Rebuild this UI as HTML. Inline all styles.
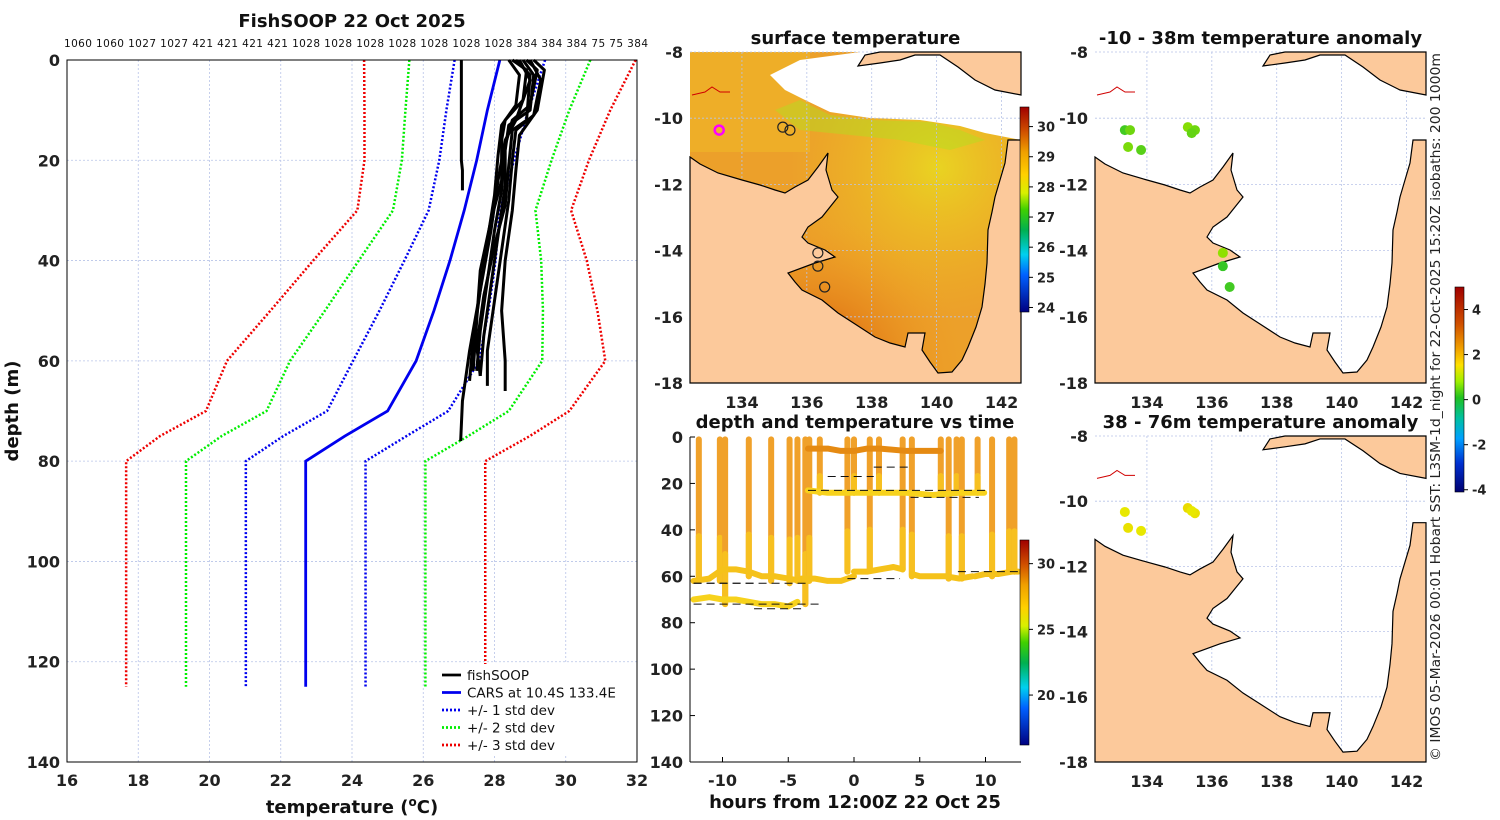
<!DOCTYPE html>
<html><head><meta charset="utf-8"><style>
html,body{margin:0;padding:0;background:#fff}
svg{display:block;font-family:"DejaVu Sans","Liberation Sans",sans-serif}
.tk{font-size:16px;font-weight:bold;fill:#222}
.ttl{font-size:18px;font-weight:bold;fill:#111}
</style></head><body>
<svg id="fig" width="1500" height="820" viewBox="0 0 1500 820" xmlns="http://www.w3.org/2000/svg">
<defs>
<linearGradient id="cbSST" x1="0" y1="0" x2="0" y2="1">
<stop offset="0" stop-color="#a00000"/><stop offset="0.12" stop-color="#d05000"/><stop offset="0.22" stop-color="#f0a000"/><stop offset="0.33" stop-color="#ffd000"/><stop offset="0.42" stop-color="#d8f000"/><stop offset="0.5" stop-color="#40d000"/><stop offset="0.6" stop-color="#00b050"/><stop offset="0.72" stop-color="#00d0f0"/><stop offset="0.82" stop-color="#0060ff"/><stop offset="1" stop-color="#000080"/></linearGradient>
<linearGradient id="cbAnom" x1="0" y1="0" x2="0" y2="1">
<stop offset="0" stop-color="#a00000"/><stop offset="0.18" stop-color="#d05000"/><stop offset="0.3" stop-color="#f0a000"/><stop offset="0.38" stop-color="#ffe000"/><stop offset="0.46" stop-color="#a0f000"/><stop offset="0.54" stop-color="#20c020"/><stop offset="0.64" stop-color="#00c0a0"/><stop offset="0.74" stop-color="#00a0ff"/><stop offset="0.86" stop-color="#0030d0"/><stop offset="1" stop-color="#000070"/></linearGradient>
<radialGradient id="sstHot" cx="0.35" cy="0.72" r="0.5"><stop offset="0" stop-color="#c02010" stop-opacity="0.9"/><stop offset="0.5" stop-color="#e07010" stop-opacity="0.5"/><stop offset="1" stop-color="#f0a020" stop-opacity="0"/></radialGradient>
<radialGradient id="sstYel" cx="0.75" cy="0.35" r="0.45"><stop offset="0" stop-color="#e8e020" stop-opacity="0.8"/><stop offset="1" stop-color="#f0c020" stop-opacity="0"/></radialGradient>
<clipPath id="clipMid"><rect x="690" y="52" width="331" height="331"/></clipPath>
</defs>
<g id="left"></g><g id="mapMid"></g><g id="tsPlot"></g><g id="mapTop"></g><g id="mapBot"></g><g id="bars"></g>
<text x="1440" y="407" transform="rotate(-90 1440 407)" text-anchor="middle" textLength="708" lengthAdjust="spacingAndGlyphs" style="font-size:13px;fill:#222">© IMOS 05-Mar-2026 00:01 Hobart SST: L3SM-1d_night for 22-Oct-2025 15:20Z isobaths: 200  1000m</text>
</svg>
<script>
// ===== Left profile chart data =====
const tempTicks = [16,18,20,22,24,26,28,30,32];
const depthTicks = [0,20,40,60,80,100,120,140];
const carsDepth = [0,10,20,30,40,50,60,70,75,80,125];
const carsMean = [28.15,27.8,27.5,27.15,26.75,26.3,25.8,25.0,23.8,22.7,22.7];
const carsStd = [1.27,1.15,1.05,1.0,1.28,1.53,1.77,1.7,1.73,1.68,1.68];
const topLabels = ["1060","1060","1027","1027","421","421","421","421","1028","1028","1028","1028","1028","1028","1028","384","384","384","75","75","384"];
const fsDepth = [
 [0,3,10,13,18,25,35,45,55,63],
 [0,2,8,12,16,24,32,42,52,62],
 [0,4,11,14,20,28,38,48,58,65],
 [0,3,9,13,19,27,36,46,56,64],
 [0,2,10,15,22,30,40,50,60,66],
 [0,3,12,14,21,29,37,47,57,63],
 [0,2,9,12,17,26,34,44,54,62],
 [0,4,12,16,24,34,46,58,68,76],
 [0,5,10,15,20,22,25,26]
];
const fsTemp = [
 [28.8,29.1,29.0,28.4,28.3,28.3,28.1,27.9,27.7,27.6],
 [28.5,28.9,28.8,28.3,28.2,28.2,27.9,27.6,27.5,27.4],
 [29.0,29.3,29.1,28.6,28.5,28.4,28.2,28.0,27.8,27.8],
 [28.4,28.7,28.6,28.2,28.1,28.0,27.8,27.6,27.4,27.3],
 [29.1,29.4,29.2,28.7,28.6,28.5,28.3,28.2,28.3,28.3],
 [28.6,29.0,28.9,28.5,28.4,28.3,28.0,27.7,27.5,27.6],
 [28.9,29.2,29.0,28.5,28.3,28.2,28.0,27.8,27.6,27.5],
 [28.7,29.0,28.6,28.3,28.1,27.9,27.6,27.3,27.1,27.05],
 [27.07,27.07,27.07,27.07,27.07,27.1,27.1,27.1]
];
// ===== Time-depth plot data =====
const hourTicks = [-10,-5,0,5,10];
const tdDepthTicks = [0,20,40,60,80,100,120,140];
const castHours = [-11.8,-10.2,-9.8,-8.0,-6.3,-4.9,-4.3,-3.7,-3.4,-2.6,-0.5,0.0,1.2,1.9,3.7,4.4,6.6,7.2,7.8,8.2,9.4,10.5,11.8,12.2];
const castBottom = [61,62,72,60,62,63,62,72,62,24,58,24,57,24,57,60,24,61,24,61,24,60,58,58];
const trackHours = [[-12.2,-11,-10,-9,-8,-7,-6,-5,-4,-3.5],[-12.2,-11,-10,-9,-8,-7,-6,-5,-4.3],[-4,-3,-2,-1,0],[0,1,2,3,3.7],[4.4,5,6,7,8,9],[9.2,10,11,12,12.5],[-3.5,-2,0,2,4,6,8,9.9],[-3.5,-2,-1,0,1,2,4,6.6]];
const trackDepth = [[62,61,57,57,58,60,60,61,62,62],[70,69,70,70,71,72,72,73,71],[61,61,62,62,60],[58,58,57,56,57],[59,60,60,60,61,60],[60,59,59,58,58],[23,24,24,24,24,25,24,24],[5,5,6,6,5,5,6,6]];
const trackTempCls = [0,1,0,0,0,0,1,2];
const dashH0 = [-12.2,-12.2,-3.5,-0.5,-2,1.5,4.3,7.9,-12.2,-7.6];
const dashH1 = [-3.5,-7.6,10,3.5,1.5,4.3,9.5,12.6,-2.5,-4.0];
const dashD = [63,63,23,61,17,13,26,58,72,74];
// ===== Maps data =====
const lonTicks = [134,136,138,140,142];
const latTicks = [-8,-10,-12,-14,-16,-18];
const obsLon = [133.32,133.48,133.42,133.82,135.26,135.48,135.38,136.34,136.34,136.55];
const obsLat = [-10.36,-10.36,-10.87,-10.96,-10.27,-10.36,-10.45,-14.07,-14.47,-15.10];
const anomShallow = [0.3,0.7,0.8,0.5,0.9,0.7,0.6,1.0,0.2,0.3];
const deepLon = [133.32,133.42,133.82,135.26,135.48,135.38];
const deepLat = [-10.33,-10.82,-10.91,-10.21,-10.37,-10.30];
const anomDeep = [2.0,2.1,2.0,2.2,2.1,2.0];
const sstTicks = [24,25,26,27,28,29,30];
const tdCbTicks = [20,25,30];
const anomTicks = [-4,-2,0,2,4];

const NS="http://www.w3.org/2000/svg";
function mk(parent,tag,attrs){const e=document.createElementNS(NS,tag);for(const k in attrs)e.setAttribute(k,attrs[k]);parent.appendChild(e);return e;}
function txt(parent,x,y,s,cls,anchor,extra){const e=mk(parent,'text',Object.assign({x:x,y:y,'text-anchor':anchor||'middle'},extra||{}));if(cls)e.setAttribute('class',cls);e.textContent=s;return e;}

// ---------- Left chart ----------
(function(){
 const g=document.getElementById('left');
 const X0=67,X1=637,Y0=60,Y1=762;
 const sx=t=>X0+(t-16)/(32-16)*(X1-X0);
 const sy=d=>Y0+d/140*(Y1-Y0);
 let t=txt(g,352,27,'FishSOOP 22 Oct 2025','ttl');
 
 
 tempTicks.forEach(v=>{const l=mk(g,'line',{x1:sx(v),x2:sx(v),y1:Y0,y2:Y1,stroke:'#b8c4e8','stroke-width':0.8,'stroke-dasharray':'2 2'});
  
  
  const e=txt(g,sx(v),786,String(v),'tk');
  
  });
 depthTicks.forEach(v=>{const l=mk(g,'line',{x1:X0,x2:X1,y1:sy(v),y2:sy(v),stroke:'#b8c4e8','stroke-width':0.8,'stroke-dasharray':'2 2'});
  
  
  const e=txt(g,60,sy(v)+6,String(v),'tk','end');
  
  });
 const tl=txt(g,356,47,topLabels.join(' '),null,'middle',{style:'font-size:10.5px;fill:#111',textLength:'584',lengthAdjust:'spacing'});
 
 
 const colors=['#0000ee','#00ee00','#ee0000'];
 [1,2,3].forEach(k=>{[-1,1].forEach(sg=>{
  const pts=carsDepth.map((d,i)=>sx(carsMean[i]+sg*k*carsStd[i])+','+sy(d)).join(' ');
  const p=mk(g,'polyline',{points:pts,fill:'none',stroke:colors[k-1],'stroke-width':2.5,'stroke-dasharray':'2 2'});
  
  });});
 const cp=mk(g,'polyline',{points:carsDepth.map((d,i)=>sx(carsMean[i])+','+sy(d)).join(' '),fill:'none',stroke:'#0000ee','stroke-width':2.8});
 
 
 fsDepth.forEach((ds,j)=>{const p=mk(g,'polyline',{points:ds.map((d,i)=>sx(fsTemp[j][i])+','+sy(d)).join(' '),fill:'none',stroke:'#000','stroke-width':3,'stroke-linejoin':'round'});
  
  });
 const fr=mk(g,'rect',{x:X0,y:Y0,width:X1-X0,height:Y1-Y0,fill:'none',stroke:'#000','stroke-width':1});
 
 
 let xl=txt(g,352,813,'','ttl');
 
 
 xl.innerHTML='temperature (<tspan dy="-7" style="font-size:12px">o</tspan><tspan dy="7">C)</tspan>';
 let yl=txt(g,18,411,'depth (m)','ttl','middle',{transform:'rotate(-90 18 411)'});
 
 
 const lg=mk(g,'g',{});
 
 
 mk(lg,'rect',{x:436,y:664,width:190,height:90,fill:'#fff'});
 const items=[['fishSOOP','#000',''],['CARS at 10.4S 133.4E','#0000ee',''],['+/- 1 std dev','#0000ee','2 2'],['+/- 2 std dev','#00ee00','2 2'],['+/- 3 std dev','#ee0000','2 2']];
 items.forEach((it,i)=>{const y=675+i*17.5;
  const l=mk(lg,'line',{x1:442,x2:461,y1:y,y2:y,stroke:it[1],'stroke-width':2.8,'stroke-dasharray':it[2]||'none'});
  
  
  const e=txt(lg,467,y+5,it[0],null,'start',{style:'font-size:13.5px;fill:#111'});
  
  });
})();

// ---------- Map helpers ----------
const topLand=[[168,14],[175,3],[190,0],[331,0],[331,43],[305,38],[285,28],[268,15],[250,3],[225,3],[210,8],[190,11]];
const mainLand=[[0,105],[10,112],[28,121],[52,128],[70,133],[85,138],[95,141],[105,135],[118,128],[128,115],[138,101],[136,118],[142,138],[148,145],[140,155],[132,165],[118,175],[112,185],[118,191],[135,198],[145,205],[125,211],[98,221],[105,230],[112,238],[132,248],[148,261],[165,272],[185,285],[200,291],[215,295],[218,281],[235,281],[232,298],[240,310],[248,321],[262,320],[272,308],[278,295],[286,275],[292,255],[295,232],[297,211],[298,178],[302,160],[305,145],[310,128],[315,111],[318,88],[331,88],[331,331],[0,331]];
function drawMap(gid,ox,oy,W,H,title,fillOcean,showXTicks,name){
 const g=document.getElementById(gid);
 
 
 const lon=v=>ox+(v-132.4)/(142.6-132.4)*W;
 const lat=v=>oy+(-8-v)/10*H;
 const ky=H/331;
 const rp=pts=>pts.map(p=>(ox+p[0])+','+(oy+p[1]*ky)).join(' ');
 if(fillOcean){fillOcean(g,ox,oy,W,H,rp);}
 else mk(g,'rect',{x:ox,y:oy,width:W,height:H,fill:'#fff'});
 lonTicks.forEach(v=>{mk(g,'line',{x1:lon(v),x2:lon(v),y1:oy,y2:oy+H,stroke:'#b8c4e8','stroke-width':0.8,'stroke-dasharray':'2 2'});});
 latTicks.forEach(v=>{mk(g,'line',{x1:ox,x2:ox+W,y1:lat(v),y2:lat(v),stroke:'#b8c4e8','stroke-width':0.8,'stroke-dasharray':'2 2'});
   const e=txt(g,ox-7,lat(v)+6,String(v),'tk','end');
   
   });
 [topLand,mainLand].forEach(pl=>{const p=mk(g,'polygon',{points:rp(pl),fill:'#fcc99b',stroke:'#000','stroke-width':1.2});
   
   });
 if(showXTicks) lonTicks.forEach(v=>{const e=txt(g,lon(v),oy+H+25,String(v),'tk');
   
   });
 const t=txt(g,ox+W/2,oy-8,title,'ttl');
 
 
 mk(g,'polyline',{points:`${ox+2},${oy+43*ky} ${ox+15},${oy+40*ky} ${ox+22},${oy+35*ky} ${ox+30},${oy+40*ky} ${ox+40},${oy+40*ky}`,fill:'none',stroke:'#d00000','stroke-width':1});
 return {g,lon,lat};
}
function hex2(c){return [parseInt(c.slice(1,3),16),parseInt(c.slice(3,5),16),parseInt(c.slice(5,7),16)];}
function anomColor(a){const s=[[-4,'#000070'],[-2,'#00a0ff'],[-1,'#00c0a0'],[0,'#20c030'],[1,'#90e000'],[2,'#e8e800'],[3,'#f0a000'],[4,'#c03000']];
 if(a<=s[0][0])return s[0][1];
 for(let i=0;i<s.length-1;i++){if(a<=s[i+1][0]){const f=(a-s[i][0])/(s[i+1][0]-s[i][0]);const c0=hex2(s[i][1]),c1=hex2(s[i+1][1]);
   return 'rgb('+c0.map((v,k)=>Math.round(v+(c1[k]-v)*f)).join(',')+')';}}
 return s[s.length-1][1];}

const mid=drawMap('mapMid',690,52,331,331,'surface temperature',function(g,ox,oy,W,H,rp){
 const cg=mk(g,'g',{'clip-path':'url(#clipMid)'});
 mk(cg,'rect',{x:ox,y:oy,width:W,height:H,fill:'#eca02a'});
 mk(cg,'rect',{x:ox,y:oy,width:W,height:H,fill:'url(#sstYel)'});
 mk(cg,'rect',{x:ox,y:oy+90,width:W,height:H,fill:'url(#sstHot)'});
 mk(cg,'rect',{x:ox,y:oy,width:120,height:100,fill:'#f0b428',opacity:0.7});
 const c=mk(cg,'polygon',{points:'770,75 800,60 860,52 1021,52 1021,140 985,133 960,126 920,120 870,118 830,112 805,100 785,90',fill:'#fff'});
 
 
 mk(cg,'polygon',{points:'775,110 800,100 830,115 870,120 930,122 960,130 985,140 950,150 900,140 850,135 800,130',fill:'#b0e020',opacity:0.45});
},true,'sst-map');
obsLon.forEach((v,i)=>{if(i>=7||i===4||i===5){const c=mk(mid.g,'circle',{cx:mid.lon(v),cy:mid.lat(obsLat[i]),r:5,fill:'none',stroke:'#222','stroke-width':1.2});
 
 }});
const mc=mk(mid.g,'circle',{cx:mid.lon(133.3),cy:mid.lat(-10.36),r:4.5,fill:'none',stroke:'#ff00ff','stroke-width':2.5});



const mt=drawMap('mapTop',1095,52,331,331,'-10 - 38m temperature anomaly',null,true,'anomaly-map-shallow');
obsLon.forEach((v,i)=>{const c=mk(mt.g,'circle',{cx:mt.lon(v),cy:mt.lat(obsLat[i]),r:5,fill:anomColor(anomShallow[i])});
 
 });
const mb=drawMap('mapBot',1095,436,331,326,'38 - 76m temperature anomaly',null,true,'anomaly-map-deep');
deepLon.forEach((v,i)=>{const c=mk(mb.g,'circle',{cx:mb.lon(v),cy:mb.lat(deepLat[i]),r:5,fill:anomColor(anomDeep[i])});
 
 });

// ---------- Time-depth plot ----------
(function(){
 const g=document.getElementById('tsPlot');
 
 
 const X0=690,X1=1021,Y0=437,Y1=762;
 const sx=h=>854+h*13.15;
 const sy=d=>Y0+d/140*(Y1-Y0);
 const t=txt(g,855,428,'depth and temperature vs time','ttl');
 
 
 tdDepthTicks.forEach(v=>{const e=txt(g,683,sy(v)+6,String(v),'tk','end');
  
  
  mk(g,'line',{x1:X0,x2:X0+5,y1:sy(v),y2:sy(v),stroke:'#000'});});
 hourTicks.forEach(v=>{const e=txt(g,sx(v),786,String(v),'tk');
  
  
  mk(g,'line',{x1:sx(v),x2:sx(v),y1:Y1,y2:Y1-5,stroke:'#000'});});
 const trackCol=['#f5c21a','#f7d21c','#e58a12'];
 castHours.forEach((h,i)=>{const l=mk(g,'line',{x1:sx(h),x2:sx(h),y1:sy(1),y2:sy(castBottom[i]),stroke:'#f0a12a','stroke-width':6,'stroke-linecap':'round'});
  
  
  const l2=mk(g,'line',{x1:sx(h),x2:sx(h),y1:sy(castBottom[i]*0.7),y2:sy(castBottom[i]),stroke:'#f7c020','stroke-width':6,'stroke-linecap':'round'});
  
  });
 trackHours.forEach((hs,j)=>{const p=mk(g,'polyline',{points:hs.map((h,i)=>sx(h)+','+sy(trackDepth[j][i])).join(' '),fill:'none',stroke:trackCol[trackTempCls[j]],'stroke-width':6,'stroke-linejoin':'round','stroke-linecap':'round'});
  
  });
 dashD.forEach((d,i)=>{const l=mk(g,'line',{x1:sx(dashH0[i]),x2:sx(dashH1[i]),y1:sy(d),y2:sy(d),stroke:'#111','stroke-width':1,'stroke-dasharray':'8 5'});
  
  });
 mk(g,'line',{x1:X0,x2:X0,y1:Y0,y2:Y1,stroke:'#000'});
 mk(g,'line',{x1:X0,x2:X1,y1:Y1,y2:Y1,stroke:'#000'});
 const xl=txt(g,855,808,'hours from 12:00Z 22 Oct 25','ttl');
 
 
})();

// ---------- Colorbars ----------
(function(){
 const g=document.getElementById('bars');
 function bar(x,y0,y1,grad,ticks,vmin,vmax,name){
  const r=mk(g,'rect',{x:x,y:y0,width:9,height:y1-y0,fill:'url(#'+grad+')',stroke:'#000','stroke-width':0.6});
  
  
  ticks.forEach(v=>{const y=y1-(v-vmin)/(vmax-vmin)*(y1-y0);
   mk(g,'line',{x1:x+9,x2:x+13,y1:y,y2:y,stroke:'#000'});
   const e=txt(g,x+17,y+5,String(v),null,'start',{style:'font-size:13px;font-weight:bold;fill:#222'});
   
   });
 }
 bar(1020,107,312,'cbSST',sstTicks,23.85,30.65,'sst-colorbar');
 bar(1020,540,745,'cbSST',tdCbTicks,16.2,31.8,'depth-time-colorbar');
 bar(1455,287,492,'cbAnom',anomTicks,-4.1,5.0,'anomaly-colorbar');
})();
</script>
</body></html>
